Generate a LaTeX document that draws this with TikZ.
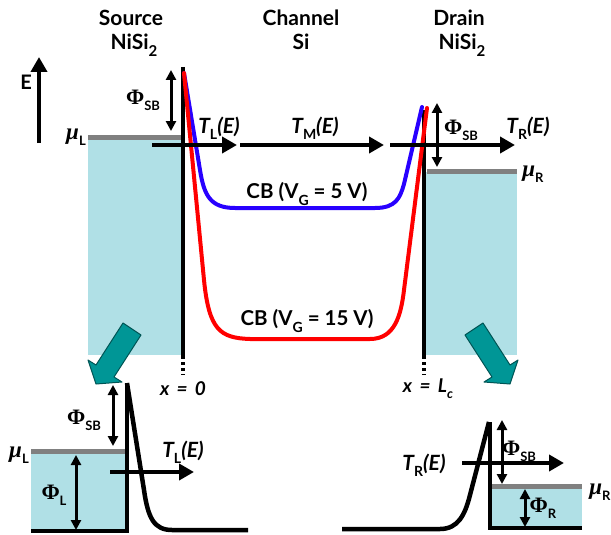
\documentclass[tikz,border=0pt]{standalone}
\usepackage{fontspec}
\setmainfont{Lato}
\newfontfamily\serif{Liberation Serif}
\usetikzlibrary{arrows.meta}
\definecolor{boxblue}{RGB}{176,224,230}
\definecolor{lgray}{RGB}{128,128,128}
\definecolor{tealf}{RGB}{0,150,150}
\definecolor{teald}{RGB}{0,85,85}
\definecolor{cbred}{RGB}{255,0,0}
\definecolor{cbblue}{RGB}{40,0,255}
\newcommand\sbs[2][13]{\raisebox{-0.3em}{\fontsize{#1}{#1}\selectfont #2}}
\newcommand\phisb{{\serif\bfseries\fontsize{22}{22}\selectfont Φ}\sbs{\bfseries SB}}
\newcommand\phix[1]{{\serif\bfseries\fontsize{22}{22}\selectfont Φ}\sbs{\bfseries #1}}
\newcommand\mux[1]{{\serif\bfseries\itshape\fontsize{23}{23}\selectfont μ}\sbs{\bfseries #1}}
\newcommand\TE[1]{{\bfseries\itshape T}\sbs[14]{\bfseries #1}{\bfseries\itshape (E)}}
\tikzset{
  lbl/.style={font=\fontsize{21}{22}\selectfont, inner sep=0pt},
  hdr/.style={font=\fontsize{21}{22}\selectfont\bfseries, inner sep=0pt, anchor=base},
  cblbl/.style={font=\fontsize{20.5}{22}\selectfont\bfseries, inner sep=0pt},
  xlbl/.style={font=\fontsize{19}{20}\selectfont\bfseries\itshape, inner sep=0pt},
  heavy/.style={line width=4.5pt},
  bigarrow/.style={line width=4.5pt, -{Triangle[length=15pt,width=16pt]}},
  dbl/.style={line width=3pt, {Triangle[length=10pt,width=10pt]}-{Triangle[length=10pt,width=10pt]}},
  graybar/.style={lgray, line width=5pt},
  cband/.style={line width=4pt, line cap=round, line join=round},
  tealarrow/.style={fill=tealf, draw=teald, line width=1pt, line join=round},
  dashv/.style={line width=4.5pt, dash pattern=on 3pt off 3pt},
}
\begin{document}
\begin{tikzpicture}[x=1pt,y=-1pt]
\useasboundingbox (0,0) rectangle (611,535);

% headers
\node[hdr] (src1) at (131,26) {Source};
\node[hdr] (src2) at (134,50) {NiSi\sbs[15]{2}};
\node[hdr] (ch1) at (301,26) {Channel};
\node[hdr] (ch2) at (301,50) {Si};
\node[hdr] (dr1) at (459,26) {Drain};
\node[hdr] (dr2) at (462,50) {NiSi\sbs[15]{2}};

% energy axis
\coordinate (e0) at (39,143);
\coordinate (e1) at (39,57);
\draw[bigarrow] (e0) -- (e1);
\node[lbl, font=\fontsize{20}{20}\selectfont\bfseries] (elbl) at (26,82) {E};

% contact boxes
\fill[boxblue] (88,139) rectangle (183,355);
\fill[boxblue] (425,172) rectangle (517,355);
\coordinate (gl0) at (88,137); \coordinate (gl1) at (182,137);
\draw[graybar] (gl0) -- (gl1);
\coordinate (gr0) at (427,171); \coordinate (gr1) at (517,171);
\draw[graybar] (gr0) -- (gr1);

% interfaces
\coordinate (il0) at (183,67); \coordinate (il1) at (183,356); \coordinate (il2) at (183,375);
\draw[heavy] (il0) -- (il1);
\draw[dashv] (il1) -- (il2);
\coordinate (ir0) at (424,110); \coordinate (ir1) at (424,356); \coordinate (ir2) at (424,375);
\draw[heavy] (ir0) -- (ir1);
\draw[dashv] (ir1) -- (ir2);

% conduction bands
\draw[cband, cbblue] (184,73) -- (200,170) .. controls (204,195) and (210,208) .. (235,208)
  -- (375,208) .. controls (396,208) and (400,198) .. (404,184) -- (422,107);
\draw[cband, cbred] (184,73) -- (204,280) .. controls (209,330) and (220,338) .. (250,339)
  -- (370,339) .. controls (395,339) and (401,315) .. (404,290) -- (427,108);

\node[cblbl] (cb5) at (307,194) {CB (V\sbs[14]{G} = 5 V)};
\node[cblbl] (cb15) at (307,321) {CB (V\sbs[14]{G} = 15 V)};

% transmission arrows
\coordinate (tl0) at (152,145); \coordinate (tl1) at (237,145);
\coordinate (tm0) at (240,145); \coordinate (tm1) at (384,145);
\coordinate (tr0) at (390,145); \coordinate (tr1) at (515,145);
\draw[bigarrow] (tl0) -- (tl1);
\draw[bigarrow] (tm0) -- (tm1);
\draw[bigarrow] (tr0) -- (tr1);
\node[lbl] (tll) at (219,128) {\TE{L}};
\node[lbl] (tml) at (315,128) {\TE{M}};
\node[lbl] (trl) at (528,128) {\TE{R}};

% barrier heights (top)
\coordinate (ps0) at (171,70); \coordinate (ps1) at (171,131);
\draw[dbl] (ps0) -- (ps1);
\node[lbl] (psl) at (143,100) {\phisb};
\coordinate (pr0) at (437,103); \coordinate (pr1) at (437,167);
\draw[dbl] (pr0) -- (pr1);
\node[lbl] (prl) at (461,130) {\phisb};

\node[lbl] (mul) at (76,137) {\mux{L}};
\node[lbl] (mur) at (533,174) {\mux{R}};

\node[xlbl] (x0) at (183,389) {x \,=\, 0};
\node[xlbl] (xL) at (428,389) {x \,=\, L\sbs[13]{c}};

% teal arrows
\draw[tealarrow] (123,323) -- (141,335) -- (114,377) -- (122,382) -- (96,384) -- (88,360) -- (96,365) -- cycle;
\draw[tealarrow] (483,323) -- (465,335) -- (492,377) -- (484,382) -- (510,384) -- (518,360) -- (510,365) -- cycle;

% ---- bottom left inset
\fill[boxblue] (31,452) rectangle (125,531);
\coordinate (bl0) at (31,451); \coordinate (bl1) at (125,451);
\draw[graybar] (bl0) -- (bl1);
\draw[heavy, line join=miter] (31,531) -- (127,531) -- (127,383);
\draw[heavy, line join=round] (127,383) -- (144,490) .. controls (148,518) and (154,530) .. (172,530) -- (248,530);
\coordinate (bs0) at (113,385); \coordinate (bs1) at (113,446);
\draw[dbl] (bs0) -- (bs1);
\node[lbl] (bsl) at (84,420) {\phisb};
\coordinate (bp0) at (76,455); \coordinate (bp1) at (76,530);
\draw[dbl] (bp0) -- (bp1);
\node[lbl] (bpl) at (54,495) {\phix{L}};
\node[lbl] (bmul) at (19,455) {\mux{L}};
\coordinate (bt0) at (110,472); \coordinate (bt1) at (194,472);
\draw[bigarrow] (bt0) -- (bt1);
\node[lbl] (btl) at (183,452) {\TE{L}};

% ---- bottom right inset
\fill[boxblue] (490,487) rectangle (582,528);
\coordinate (br0) at (490,486); \coordinate (br1) at (582,486);
\draw[graybar] (br0) -- (br1);
\draw[heavy, line join=miter] (582,528) -- (490,528) -- (490,422);
\draw[heavy, line join=round] (489,422) -- (470,495) .. controls (465,515) and (458,529) .. (440,529) -- (342,529);
\coordinate (rs0) at (502,420); \coordinate (rs1) at (502,484);
\draw[dbl] (rs0) -- (rs1);
\node[lbl] (rsl) at (519,451) {\phisb};
\coordinate (rp0) at (525,489); \coordinate (rp1) at (525,527);
\draw[dbl] (rp0) -- (rp1);
\node[lbl] (rpl) at (543,508) {\phix{R}};
\node[lbl] (rmul) at (600,492) {\mux{R}};
\coordinate (rt0) at (462,463); \coordinate (rt1) at (564,463);
\draw[bigarrow] (rt0) -- (rt1);
\node[lbl] (rtl) at (424,465) {\TE{R}};
\end{tikzpicture}
\end{document}
